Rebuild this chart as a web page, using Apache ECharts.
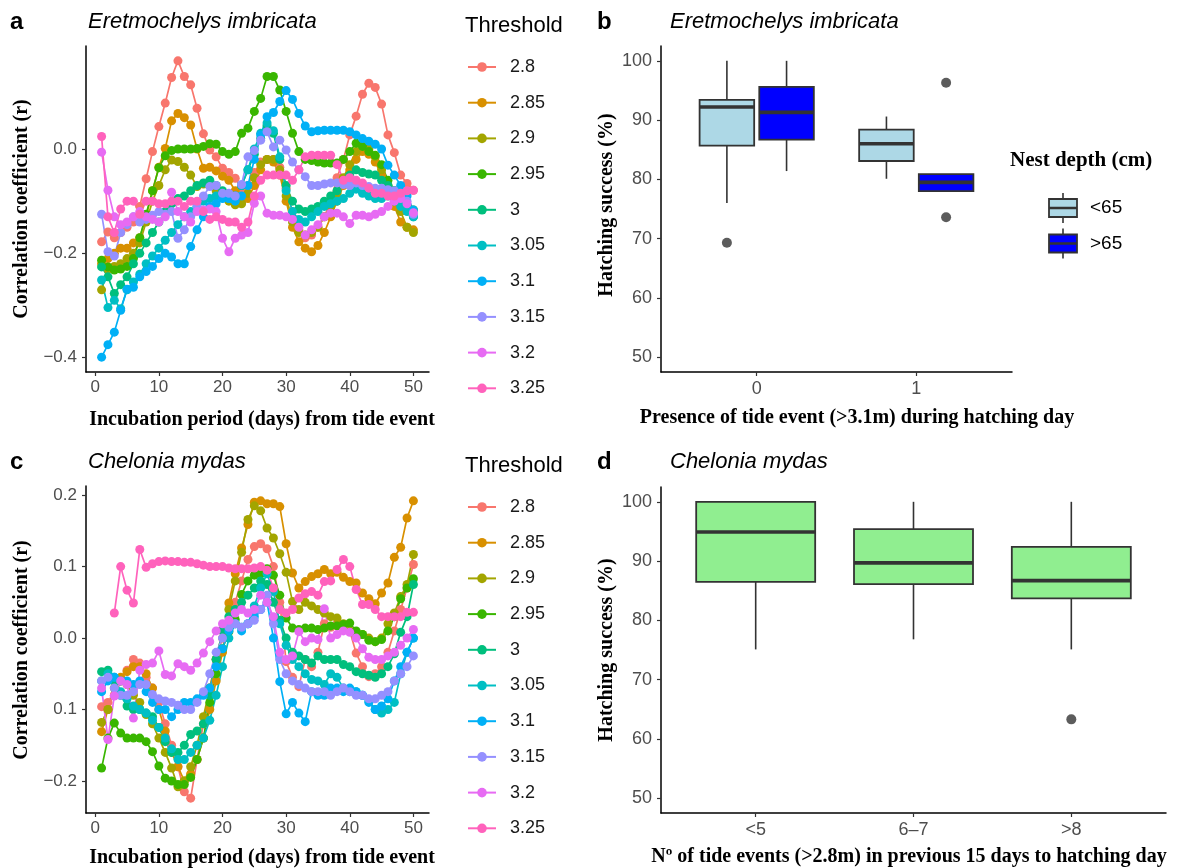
<!DOCTYPE html>
<html>
<head>
<meta charset="utf-8">
<script src="https://cdn.jsdelivr.net/npm/echarts@6/dist/echarts.min.js"></script>
<style>
  html, body { margin: 0; padding: 0; background: #ffffff; }
  #chart { width: 1195px; height: 868px; }
</style>
</head>
<body>
<div id="chart"></div>
<script>
// ---------------- data ----------------
const days = [1,2,3,4,5,6,7,8,9,10,11,12,13,14,15,16,17,18,19,20,21,22,23,24,25,
              26,27,28,29,30,31,32,33,34,35,36,37,38,39,40,41,42,43,44,45,46,47,48,49,50];
const thresholds = ['2.8','2.85','2.9','2.95','3','3.05','3.1','3.15','3.2','3.25'];
const thresholdColors = ['#F8766D','#D89000','#A3A500','#39B600','#00BF7D','#00BFC4','#00B0F6','#9590FF','#E76BF3','#FF62BC'];

// Eretmochelys imbricata: correlation coefficient (r) by incubation day, one array per threshold
const ei28  = [-0.178,-0.159,-0.17,-0.16,-0.15,-0.14,-0.11,-0.057,-0.005,0.043,0.088,0.137,0.169,0.139,0.123,0.078,0.029,-0.002,-0.015,-0.037,-0.045,-0.056,-0.075,-0.07,-0.045,-0.025,-0.02,-0.02,-0.035,-0.075,-0.12,-0.155,-0.17,-0.165,-0.15,-0.13,-0.1,-0.055,-0.02,0.027,0.063,0.105,0.126,0.118,0.086,0.027,-0.007,-0.05,-0.066,-0.079];
const ei285 = [-0.22,-0.21,-0.2,-0.19,-0.19,-0.18,-0.17,-0.13,-0.08,-0.035,0.001,0.054,0.068,0.06,0.046,0.0,-0.037,-0.035,-0.042,-0.052,-0.06,-0.08,-0.1,-0.095,-0.07,-0.04,-0.02,-0.025,-0.05,-0.1,-0.15,-0.178,-0.19,-0.197,-0.185,-0.16,-0.13,-0.1,-0.07,-0.04,-0.02,-0.005,-0.01,-0.025,-0.05,-0.08,-0.11,-0.14,-0.15,-0.155];
const ei29  = [-0.27,-0.23,-0.225,-0.22,-0.21,-0.2,-0.18,-0.14,-0.1,-0.07,-0.04,-0.021,-0.024,-0.035,-0.05,-0.072,-0.067,-0.07,-0.08,-0.09,-0.1,-0.107,-0.105,-0.085,-0.055,-0.03,-0.02,-0.02,-0.04,-0.09,-0.14,-0.16,-0.165,-0.16,-0.15,-0.13,-0.11,-0.085,-0.055,-0.03,-0.005,0.005,0.0,-0.015,-0.04,-0.07,-0.095,-0.12,-0.15,-0.16];
const ei295 = [-0.213,-0.226,-0.232,-0.23,-0.225,-0.21,-0.17,-0.125,-0.08,-0.036,-0.013,-0.003,0.0,0.0,0.0,0.001,0.005,0.01,0.009,-0.005,-0.01,-0.005,0.03,0.04,0.072,0.097,0.139,0.139,0.113,0.072,0.03,-0.005,-0.02,-0.022,-0.025,-0.027,-0.027,-0.027,-0.02,-0.005,0.011,0.005,-0.005,-0.012,-0.03,-0.06,-0.08,-0.1,-0.11,-0.117];
const ei30  = [-0.226,-0.245,-0.277,-0.26,-0.245,-0.22,-0.2,-0.18,-0.16,-0.14,-0.12,-0.105,-0.095,-0.09,-0.08,-0.07,-0.065,-0.06,-0.07,-0.08,-0.09,-0.09,-0.07,-0.04,-0.01,0.02,0.045,0.03,-0.02,-0.07,-0.1,-0.115,-0.12,-0.115,-0.11,-0.1,-0.09,-0.08,-0.065,-0.05,-0.04,-0.045,-0.048,-0.05,-0.06,-0.07,-0.08,-0.1,-0.115,-0.13];
const ei305 = [-0.251,-0.304,-0.29,-0.306,-0.27,-0.255,-0.24,-0.22,-0.205,-0.19,-0.175,-0.16,-0.145,-0.13,-0.12,-0.11,-0.1,-0.095,-0.09,-0.09,-0.095,-0.09,-0.07,-0.04,0.0,0.03,0.05,0.035,-0.015,-0.08,-0.12,-0.135,-0.14,-0.13,-0.12,-0.11,-0.105,-0.1,-0.095,-0.085,-0.077,-0.085,-0.09,-0.095,-0.095,-0.09,-0.1,-0.11,-0.12,-0.13];
const ei31  = [-0.399,-0.375,-0.351,-0.309,-0.269,-0.265,-0.245,-0.235,-0.225,-0.21,-0.2,-0.207,-0.22,-0.22,-0.187,-0.155,-0.13,-0.11,-0.105,-0.095,-0.095,-0.1,-0.09,-0.07,-0.02,0.027,0.062,0.07,0.091,0.112,0.095,0.068,0.044,0.033,0.035,0.036,0.036,0.036,0.036,0.033,0.027,0.02,0.015,0.009,0.0,-0.031,-0.05,-0.07,-0.09,-0.117];
const ei315 = [-0.125,-0.197,-0.205,-0.16,-0.145,-0.13,-0.14,-0.135,-0.127,-0.12,-0.125,-0.12,-0.171,-0.155,-0.13,-0.11,-0.09,-0.072,-0.07,-0.085,-0.085,-0.09,-0.068,-0.015,-0.003,0.017,0.033,0.004,0.017,-0.002,-0.025,-0.04,-0.053,-0.07,-0.07,-0.067,-0.065,-0.065,-0.068,-0.07,-0.065,-0.07,-0.072,-0.075,-0.075,-0.078,-0.08,-0.09,-0.1,-0.125];
const ei32  = [-0.006,-0.079,-0.13,-0.145,-0.14,-0.13,-0.12,-0.13,-0.135,-0.14,-0.13,-0.083,-0.12,-0.13,-0.14,-0.12,-0.117,-0.115,-0.12,-0.171,-0.197,-0.171,-0.165,-0.16,-0.104,-0.09,-0.123,-0.127,-0.127,-0.13,-0.135,-0.15,-0.165,-0.155,-0.145,-0.13,-0.123,-0.123,-0.13,-0.143,-0.127,-0.127,-0.13,-0.125,-0.12,-0.11,-0.1,-0.095,-0.105,-0.122];
const ei325 = [0.024,-0.13,-0.16,-0.115,-0.1,-0.1,-0.125,-0.1,-0.1,-0.105,-0.105,-0.1,-0.1,-0.11,-0.1,-0.1,-0.12,-0.135,-0.13,-0.135,-0.14,-0.14,-0.15,-0.14,-0.09,-0.06,-0.05,-0.05,-0.05,-0.05,-0.06,-0.04,-0.015,-0.012,-0.012,-0.012,-0.012,-0.03,-0.06,-0.055,-0.06,-0.065,-0.075,-0.085,-0.085,-0.09,-0.09,-0.085,-0.08,-0.079];

// Chelonia mydas: correlation coefficient (r) by incubation day, one array per threshold
const cm28  = [-0.096,-0.09,-0.08,-0.06,-0.045,-0.03,-0.035,-0.055,-0.07,-0.09,-0.12,-0.15,-0.18,-0.215,-0.224,-0.17,-0.12,-0.07,-0.03,0.0,0.02,0.05,0.08,0.11,0.128,0.132,0.125,0.1,0.05,-0.033,-0.055,-0.068,-0.03,-0.04,-0.02,0.02,0.015,0.02,0.015,0.01,-0.021,-0.04,-0.054,-0.05,-0.04,-0.02,0.01,0.04,0.07,0.103];
const cm285 = [-0.131,-0.1,-0.06,-0.055,-0.047,-0.04,-0.04,-0.05,-0.07,-0.1,-0.13,-0.16,-0.18,-0.2,-0.19,-0.17,-0.14,-0.1,-0.06,-0.02,0.049,0.09,0.126,0.159,0.19,0.192,0.188,0.188,0.184,0.132,0.091,0.07,0.079,0.086,0.09,0.096,0.09,0.092,0.085,0.079,0.077,0.063,0.055,0.048,0.063,0.077,0.113,0.127,0.168,0.192];
const cm29  = [-0.118,-0.1,-0.07,-0.06,-0.065,-0.08,-0.09,-0.107,-0.12,-0.14,-0.16,-0.182,-0.208,-0.2,-0.18,-0.15,-0.11,-0.07,-0.03,0.01,0.04,0.08,0.12,0.166,0.185,0.178,0.154,0.14,0.118,0.092,0.051,0.04,0.05,0.045,0.04,0.035,0.03,0.028,0.02,0.01,0.002,0.005,0.0,-0.005,0.0,0.02,0.035,0.058,0.075,0.117];
const cm295 = [-0.182,-0.14,-0.119,-0.133,-0.14,-0.14,-0.14,-0.145,-0.159,-0.179,-0.196,-0.2,-0.205,-0.205,-0.195,-0.17,-0.14,-0.09,-0.05,-0.015,0.009,0.026,0.061,0.08,0.088,0.09,0.097,0.088,0.06,0.028,0.014,0.012,0.014,0.014,0.012,0.014,0.017,0.017,0.019,0.021,0.01,0.005,-0.003,-0.005,-0.002,0.01,0.03,0.055,0.07,0.083];
const cm30  = [-0.047,-0.045,-0.06,-0.08,-0.095,-0.1,-0.1,-0.105,-0.11,-0.125,-0.145,-0.16,-0.16,-0.15,-0.135,-0.13,-0.12,-0.08,-0.03,0.01,0.03,0.04,0.05,0.06,0.07,0.08,0.075,0.05,0.025,0.0,-0.02,-0.025,-0.03,-0.035,-0.025,-0.03,-0.03,-0.03,-0.037,-0.04,-0.047,-0.05,-0.052,-0.055,-0.05,-0.04,-0.022,0.008,0.03,0.075];
const cm305 = [-0.06,-0.05,-0.055,-0.075,-0.085,-0.095,-0.1,-0.105,-0.115,-0.125,-0.14,-0.155,-0.17,-0.17,-0.16,-0.15,-0.14,-0.115,-0.08,-0.04,0.0,0.02,0.015,0.02,0.045,0.07,0.09,0.065,0.02,-0.01,-0.03,-0.04,-0.05,-0.058,-0.06,-0.065,-0.05,-0.055,-0.07,-0.075,-0.075,-0.08,-0.088,-0.1,-0.105,-0.1,-0.09,-0.05,-0.02,0.0];
const cm31  = [-0.075,-0.06,-0.055,-0.06,-0.06,-0.065,-0.06,-0.075,-0.09,-0.1,-0.1,-0.11,-0.1,-0.09,-0.09,-0.085,-0.08,-0.07,-0.04,-0.015,0.01,0.02,0.01,0.02,0.03,0.04,0.05,0.0,-0.061,-0.106,-0.09,-0.105,-0.117,-0.075,-0.08,-0.08,-0.07,-0.07,-0.075,-0.07,-0.075,-0.08,-0.09,-0.1,-0.095,-0.085,-0.06,-0.04,-0.02,0.0];
const cm315 = [-0.06,-0.055,-0.07,-0.08,-0.08,-0.075,-0.065,-0.065,-0.079,-0.085,-0.088,-0.09,-0.094,-0.1,-0.1,-0.09,-0.075,-0.05,-0.02,0.0,0.015,0.02,0.015,0.02,0.025,0.04,0.06,0.02,-0.03,-0.05,-0.06,-0.065,-0.07,-0.075,-0.075,-0.075,-0.08,-0.075,-0.07,-0.075,-0.08,-0.08,-0.085,-0.085,-0.08,-0.075,-0.06,-0.05,-0.04,-0.025];
const cm32  = [-0.07,-0.142,-0.081,-0.06,-0.065,-0.112,-0.045,-0.037,-0.035,-0.018,-0.051,-0.053,-0.036,-0.04,-0.045,-0.035,-0.021,-0.005,0.01,0.02,0.025,0.035,0.04,0.035,0.04,0.06,0.05,0.03,-0.02,-0.03,-0.025,0.009,-0.005,0.0,-0.002,0.041,0.0,0.005,0.01,0.008,0.0,-0.015,-0.027,-0.03,-0.03,-0.025,-0.02,-0.01,0.0,0.012];
const cm325 = [null,null,0.035,0.1,0.067,0.049,0.124,0.099,0.104,0.107,0.108,0.107,0.107,0.106,0.106,0.104,0.102,0.1,0.1,0.1,0.098,0.097,0.097,0.097,0.098,0.1,0.095,0.07,0.04,0.035,0.04,0.056,0.062,0.065,0.06,0.079,0.08,0.096,0.11,0.1,0.068,0.047,0.047,0.04,0.03,0.03,0.03,0.03,0.036,0.036];

const eiSeries = [ei28, ei285, ei29, ei295, ei30, ei305, ei31, ei315, ei32, ei325];
const cmSeries = [cm28, cm285, cm29, cm295, cm30, cm305, cm31, cm315, cm32, cm325];

// axis ticks
const dayTicks = [0, 10, 20, 30, 40, 50];
const eiYTicks = [-0.4, -0.2, 0.0];
const eiYLabels = ['\u22120.4', '\u22120.2', '0.0'];
const cmYTicks = [-0.2, -0.1, 0.0, 0.1, 0.2];
const cmYLabels = ['\u22120.2', '0.1', '0.0', '0.1', '0.2'];
const successTicks = [50, 60, 70, 80, 90, 100];

// Eretmochelys hatching success: [lower whisker, Q1, median, Q3, upper whisker] per tide group
const tideGroups = ['0', '1'];
const shallowBoxes = [[76.0, 85.7, 92.2, 93.4, 100], [80.1, 83.1, 86.0, 88.4, 90.6]];
const deepBoxes    = [[81.4, 86.7, 91.3, 95.6, 100], [78.0, 78.0, 79.5, 80.9, 80.9]];
const shallowOutliers = [[0, 69.3]];
const deepOutliers    = [[1, 96.3], [1, 73.6]];
const depthNames = ['<65', '>65'];
const depthColors = ['#ADD8E6', '#0000FF'];

// Chelonia hatching success by number of tide events
const eventGroups = ['<5', '6\u20137', '>8'];
const eventBoxes = [[75.1, 86.5, 94.9, 100, 100], [76.8, 86.1, 89.7, 95.4, 100], [75.1, 83.7, 86.7, 92.4, 100]];
const eventOutliers = [[2, 63.3]];

// ---------------- styling helpers ----------------
const SANS = '"Liberation Sans", Arial, Helvetica, sans-serif';
const SERIF = '"Liberation Serif", "Times New Roman", Times, serif';
const INK = '#333333';
const TICK_GREY = '#4D4D4D';

function pickLabel(ticks, labels) {
  return function (v) {
    const i = ticks.findIndex(t => Math.abs(t - v) < 1e-6);
    return i >= 0 ? labels[i] : '';
  };
}

function valueAxis(gridIndex, min, max, ticks, labels, fontSize, margin) {
  return {
    type: 'value', gridIndex: gridIndex, min: min, max: max, scale: true,
    axisLine: { show: true, onZero: false, lineStyle: { color: '#000000', width: 1.5 } },
    axisTick: { show: true, customValues: ticks, length: 4, lineStyle: { color: INK, width: 1.2 } },
    axisLabel: {
      show: true, customValues: ticks, formatter: pickLabel(ticks, labels),
      color: TICK_GREY, fontSize: fontSize, fontFamily: SANS, margin: margin
    },
    splitLine: { show: false }
  };
}

const dayLabels = dayTicks.map(String);
const successLabels = successTicks.map(String);

function boxRenderer(offset, width, fill) {
  return function (params, api) {
    const x = api.value(0) + offset;
    const lo = api.coord([x, api.value(1)]);
    const q1 = api.coord([x, api.value(2)]);
    const md = api.coord([x, api.value(3)]);
    const q3 = api.coord([x, api.value(4)]);
    const hi = api.coord([x, api.value(5)]);
    const left = api.coord([x - width / 2, api.value(2)])[0];
    const right = api.coord([x + width / 2, api.value(2)])[0];
    return {
      type: 'group',
      children: [
        { type: 'line', shape: { x1: lo[0], y1: lo[1], x2: q1[0], y2: q1[1] }, style: { stroke: INK, lineWidth: 1.6 } },
        { type: 'line', shape: { x1: q3[0], y1: q3[1], x2: hi[0], y2: hi[1] }, style: { stroke: INK, lineWidth: 1.6 } },
        { type: 'rect', shape: { x: left, y: q3[1], width: right - left, height: q1[1] - q3[1] },
          style: { fill: fill, stroke: INK, lineWidth: 1.8 } },
        { type: 'line', shape: { x1: left, y1: md[1], x2: right, y2: md[1] }, style: { stroke: INK, lineWidth: 3.6 } }
      ]
    };
  };
}

// ---------------- series ----------------
const series = [];
function addLines(list, axisIndex) {
  list.forEach((vals, k) => {
    series.push({
      type: 'line', name: thresholds[k], xAxisIndex: axisIndex, yAxisIndex: axisIndex,
      data: days.map((d, i) => [d, vals[i]]),
      symbol: 'circle', symbolSize: 9, showSymbol: true, showAllSymbol: true,
      connectNulls: false, color: thresholdColors[k],
      lineStyle: { width: 1.7, color: thresholdColors[k] },
      itemStyle: { color: thresholdColors[k], borderWidth: 0 },
      emphasis: { disabled: true }, silent: true
    });
  });
}
addLines(eiSeries, 0);
addLines(cmSeries, 2);

const depthOffset = 0.187, depthWidth = 0.342;
series.push({
  type: 'custom', name: depthNames[0], xAxisIndex: 1, yAxisIndex: 1,
  renderItem: boxRenderer(-depthOffset, depthWidth, depthColors[0]),
  data: shallowBoxes.map((s, i) => [i + 1].concat(s)), encode: { x: 0, y: [1, 2, 3, 4, 5] }, silent: true
});
series.push({
  type: 'custom', name: depthNames[1], xAxisIndex: 1, yAxisIndex: 1,
  renderItem: boxRenderer(depthOffset, depthWidth, depthColors[1]),
  data: deepBoxes.map((s, i) => [i + 1].concat(s)), encode: { x: 0, y: [1, 2, 3, 4, 5] }, silent: true
});
series.push({
  type: 'scatter', xAxisIndex: 1, yAxisIndex: 1, symbol: 'circle', symbolSize: 10,
  itemStyle: { color: INK }, silent: true,
  data: shallowOutliers.map(o => [o[0] + 1 - depthOffset, o[1]])
    .concat(deepOutliers.map(o => [o[0] + 1 + depthOffset, o[1]]))
});

series.push({
  type: 'custom', xAxisIndex: 3, yAxisIndex: 3,
  renderItem: boxRenderer(0, 0.754, '#90EE90'),
  data: eventBoxes.map((s, i) => [i + 1].concat(s)), encode: { x: 0, y: [1, 2, 3, 4, 5] }, silent: true
});
series.push({
  type: 'scatter', xAxisIndex: 3, yAxisIndex: 3, symbol: 'circle', symbolSize: 10,
  itemStyle: { color: INK }, silent: true,
  data: eventOutliers.map(o => [o[0] + 1, o[1]])
});

// ---------------- text and keys ----------------
function txt(x, y, text, font, align, extra) {
  return Object.assign({
    type: 'text', x: x, y: y, silent: true,
    style: { text: text, font: font, fill: '#000000', textAlign: align || 'left', align: align || 'left',
             textVerticalAlign: 'middle', verticalAlign: 'middle' }
  }, extra || {});
}
const titleFont = 'italic 22px ' + SANS;
const letterFont = 'bold 24px ' + SANS;
const axisTitleFont = 'bold 20px ' + SERIF;

const graphics = [
  txt(10, 22, 'a', letterFont), txt(88, 22, 'Eretmochelys imbricata', titleFont),
  txt(597, 22, 'b', letterFont), txt(670, 22, 'Eretmochelys imbricata', titleFont),
  txt(10, 462, 'c', letterFont), txt(88, 462, 'Chelonia mydas', titleFont),
  txt(597, 462, 'd', letterFont), txt(670, 462, 'Chelonia mydas', titleFont),
  txt(465, 26, 'Threshold', '22px ' + SANS), txt(465, 466, 'Threshold', '22px ' + SANS),
  txt(22, 209, 'Correlation coefficient (r)', axisTitleFont, 'center', { rotation: Math.PI / 2 }),
  txt(22, 650, 'Correlation coefficient (r)', axisTitleFont, 'center', { rotation: Math.PI / 2 }),
  txt(607, 205, 'Hatching success (%)', axisTitleFont, 'center', { rotation: Math.PI / 2 }),
  txt(607, 650, 'Hatching success (%)', axisTitleFont, 'center', { rotation: Math.PI / 2 }),
  txt(262, 420, 'Incubation period (days) from tide event', axisTitleFont, 'center'),
  txt(262, 858, 'Incubation period (days) from tide event', axisTitleFont, 'center'),
  txt(857, 418, 'Presence of tide event (>3.1m) during hatching day', axisTitleFont, 'center'),
  txt(909, 857, 'N\u00BA of tide events (>2.8m) in previous 15 days to hatching day', axisTitleFont, 'center'),
  txt(1010, 161, 'Nest depth (cm)', 'bold 21px ' + SERIF)
];
// nest depth key: miniature boxes
[208, 243.5].forEach((cy, k) => {
  graphics.push({ type: 'line', silent: true, shape: { x1: 1063, y1: cy - 15, x2: 1063, y2: cy + 15 }, style: { stroke: INK, lineWidth: 1.6 } });
  graphics.push({ type: 'rect', silent: true, shape: { x: 1049, y: cy - 9, width: 28, height: 18 }, style: { fill: depthColors[k], stroke: INK, lineWidth: 1.8 } });
  graphics.push({ type: 'line', silent: true, shape: { x1: 1049, y1: cy, x2: 1077, y2: cy }, style: { stroke: INK, lineWidth: 2.5 } });
  graphics.push(txt(1090, cy, depthNames[k], '19px ' + SANS));
});

function thresholdLegend(top) {
  return {
    data: thresholds, orient: 'vertical', left: 467, top: top, padding: 0,
    itemWidth: 28, itemHeight: 12, itemGap: 15.7, selectedMode: false,
    textStyle: { fontSize: 18, fontFamily: SANS, color: '#1a1a1a', lineHeight: 20, padding: [0, 0, 0, 9] }
  };
}

const option = {
  animation: false,
  backgroundColor: '#ffffff',
  grid: [
    { left: 86, top: 46, width: 343, height: 326 },
    { left: 661, top: 46, width: 351, height: 326 },
    { left: 86, top: 486, width: 343, height: 327 },
    { left: 661, top: 487, width: 505, height: 326 }
  ],
  xAxis: [
    valueAxis(0, -1.45, 52.45, dayTicks, dayLabels, 17, 7),
    valueAxis(1, 0.4, 2.6, [1, 2], tideGroups, 18, 8),
    valueAxis(2, -1.45, 52.45, dayTicks, dayLabels, 17, 7),
    valueAxis(3, 0.4, 3.6, [1, 2, 3], eventGroups, 18, 8)
  ],
  yAxis: [
    valueAxis(0, -0.4274, 0.1974, eiYTicks, eiYLabels, 17, 9),
    valueAxis(1, 47.5, 102.5, successTicks, successLabels, 18, 9),
    valueAxis(2, -0.2448, 0.2128, cmYTicks, cmYLabels, 17, 9),
    valueAxis(3, 47.5, 102.5, successTicks, successLabels, 18, 9)
  ],
  legend: [thresholdLegend(57), thresholdLegend(497)],
  graphic: { elements: graphics },
  series: series
};

const chart = echarts.init(document.getElementById('chart'), null, { renderer: 'canvas', width: 1195, height: 868 });
chart.setOption(option);
</script>
</body>
</html>
